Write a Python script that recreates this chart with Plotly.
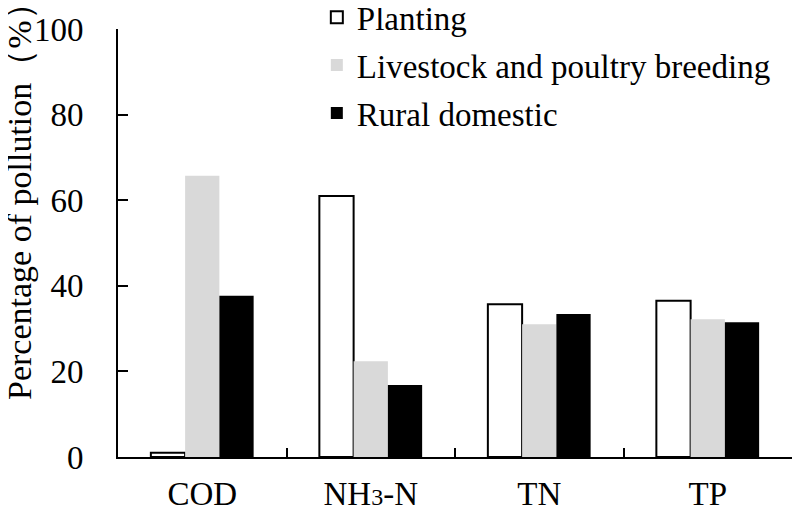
import plotly.graph_objects as go

categories = ["COD", "NH<span style='font-size:24px'>3</span>-N", "TN", "TP"]
series_names = ["Planting", "Livestock and poultry breeding", "Rural domestic"]
planting = [1.0, 61.0, 35.7, 36.5]
livestock = [65.7, 22.4, 31.0, 32.2]
rural = [37.7, 16.8, 33.4, 31.5]
y_ticks = [0, 20, 40, 60, 80, 100]
y_title = "Percentage of pollution（%）"

FONT = "Liberation Serif, Times New Roman, serif"

fig = go.Figure()
styles = [
    dict(color="white", line=dict(color="black", width=2)),
    dict(color="#d9d9d9", line=dict(color="#d9d9d9", width=0)),
    dict(color="black", line=dict(color="black", width=0)),
]
for i, (name, vals) in enumerate(zip(series_names, [planting, livestock, rural])):
    fig.add_trace(go.Bar(x=categories, y=vals, name=name, marker=styles[i],
                         legendgroup=f"g{i}"))

fig.update_layout(
    width=792, height=505,
    margin=dict(l=110, r=8, t=21, b=56, autoexpand=False),
    paper_bgcolor="white", plot_bgcolor="white",
    barmode="group", bargap=0.39, bargroupgap=0.0,
    font=dict(family=FONT, color="black", size=33),
    legend=dict(x=0.295, y=1.093, xanchor="left", yanchor="top",
                font=dict(size=33, family=FONT), tracegroupgap=2,
                bgcolor="rgba(0,0,0,0)"),
    showlegend=True,
    annotations=[dict(text=y_title, textangle=-90, xref="paper", yref="paper",
                      x=-0.146, y=0.616, xanchor="center", yanchor="middle",
                      showarrow=False, font=dict(size=34, family=FONT))],
)
fig.update_xaxes(
    type="category", range=[-0.5, 3.5], automargin=False,
    showline=True, linecolor="black", linewidth=2,
    ticks="inside", ticklen=9, tickwidth=2, tickcolor="black",
    tickson="boundaries", showgrid=False,
    tickfont=dict(size=33, family=FONT), ticklabelstandoff=6,
)
fig.update_yaxes(
    range=[0, 100], tickvals=y_ticks, automargin=False,
    showline=True, linecolor="black", linewidth=2,
    ticks="inside", ticklen=10, tickwidth=2, tickcolor="black",
    showgrid=False, zeroline=False,
    tickfont=dict(size=33, family=FONT), ticklabelstandoff=26,
)

fig.write_html("out.html")
